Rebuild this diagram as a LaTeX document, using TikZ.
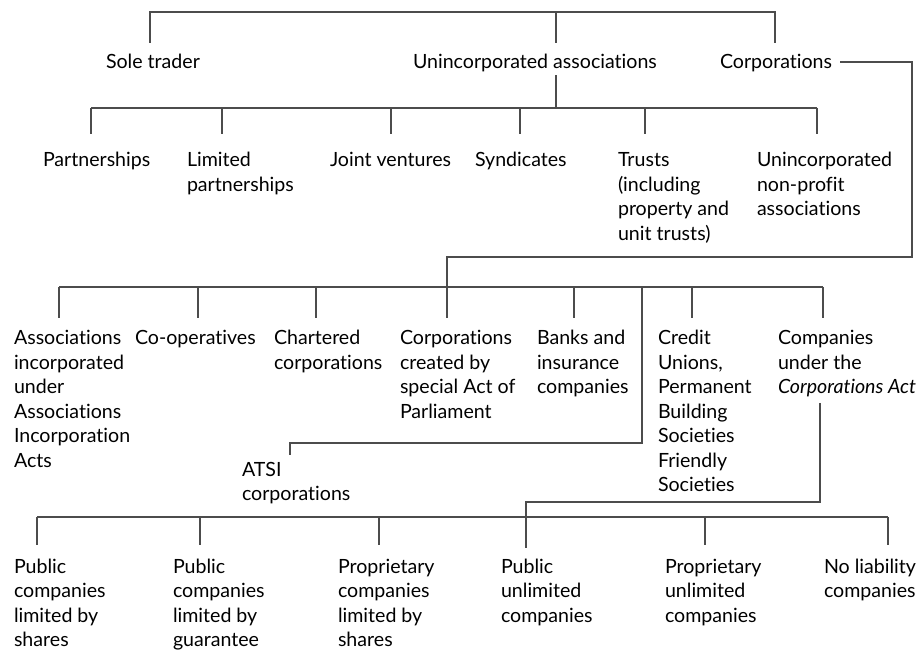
\documentclass[tikz,border=0pt]{standalone}
\usepackage{fontspec}
\setmainfont{Lato}[Ligatures={NoCommon,NoRare}]
\newcommand{\lines}[1]{\begin{tabular}[t]{@{}l@{}}#1\end{tabular}}
\begin{document}
\begin{tikzpicture}[x=1pt,y=-1pt,
  lbl/.style={anchor=base west,inner sep=0pt,outer sep=0pt,text=black,
    font=\fontsize{19.6}{24.5}\selectfont},
  link/.style={draw=black!70,line width=1.3pt}]
\useasboundingbox (0,0) rectangle (919,652);

% first level
\node[lbl] (sole) at (106,69) {Sole trader};
\node[lbl] (unin) at (413,69) {Unincorporated associations};
\node[lbl] (corp) at (720,69) {Corporations};

% unincorporated associations
\node[lbl] (part) at (43,167) {Partnerships};
\node[lbl] (lpart) at (187,167) {\lines{Limited\\partnerships}};
\node[lbl] (joint) at (330,167) {Joint ventures};
\node[lbl] (synd) at (475,167) {Syndicates};
\node[lbl] (trust) at (618,167) {\lines{Trusts\\(including\\property and\\unit trusts)}};
\node[lbl] (npa) at (757,167) {\lines{Unincorporated\\non-profit\\associations}};

% corporations
\node[lbl] (assoc) at (14,345) {\lines{Associations\\incorporated\\under\\Associations\\Incorporation\\Acts}};
\node[lbl] (coop) at (135,345) {Co-operatives};
\node[lbl] (chart) at (274,345) {\lines{Chartered\\corporations}};
\node[lbl] (spec) at (400,345) {\lines{Corporations\\created by\\special Act of\\Parliament}};
\node[lbl] (bank) at (537,345) {\lines{Banks and\\insurance\\companies}};
\node[lbl] (credit) at (658,345) {\lines{Credit\\Unions,\\Permanent\\Building\\Societies\\Friendly\\Societies}};
\node[lbl] (cact) at (778,345) {\lines{Companies\\under the\\\textit{Corporations Act}}};
\node[lbl] (atsi) at (242,476) {\lines{ATSI\\corporations}};

% companies
\node[lbl] (pls) at (14,573) {\lines{Public\\companies\\limited by\\shares}};
\node[lbl] (plg) at (173,573) {\lines{Public\\companies\\limited by\\guarantee}};
\node[lbl] (prls) at (338,573) {\lines{Proprietary\\companies\\limited by\\shares}};
\node[lbl] (pun) at (501,573) {\lines{Public\\unlimited\\companies}};
\node[lbl] (prun) at (665,573) {\lines{Proprietary\\unlimited\\companies}};
\node[lbl] (nol) at (824,573) {\lines{No liability\\companies}};

% top bar
\coordinate (tsole) at (150,43);
\coordinate (tunin) at (556,43);
\coordinate (tcorp) at (775,43);
\draw[link] (tsole) -- ++(0,-31) -| (tcorp);
\draw[link] (tunin) -- ++(0,-31);

% unincorporated associations bar
\coordinate (ubar) at (556,108);
\draw[link] (unin.south -| ubar) ++(0,3) -- (ubar);
\draw[link] (91,108) -- (817,108);
\foreach \x/\n in {91/part,222/lpart,391/joint,520/synd,645/trust,817/npa}
  \draw[link] (\x,108) -- (\x,134);

% corporations bar
\coordinate (cbar) at (447,287);
\coordinate (cstart) at (840,62);
\draw[link] (cstart) -- (912,62) |- (447,257) -- (cbar);
\draw[link] (59,287) -- (823,287);
\foreach \x/\n in {59/assoc,198/coop,316/chart,447/spec,574/bank,692/credit,823/cact}
  \draw[link] (\x,287) -- (\x,318);
\draw[link] (642,287) -- (642,443) -| (290,455);

% companies bar
\draw[link] (37,517) -- (888,517);
\foreach \x/\n in {37/pls,200/plg,379/prls,705/prun,888/nol}
  \draw[link] (\x,517) -- (\x,545);
\draw[link] (820,403) -- (820,502) -| (526,548);
\end{tikzpicture}
\end{document}
